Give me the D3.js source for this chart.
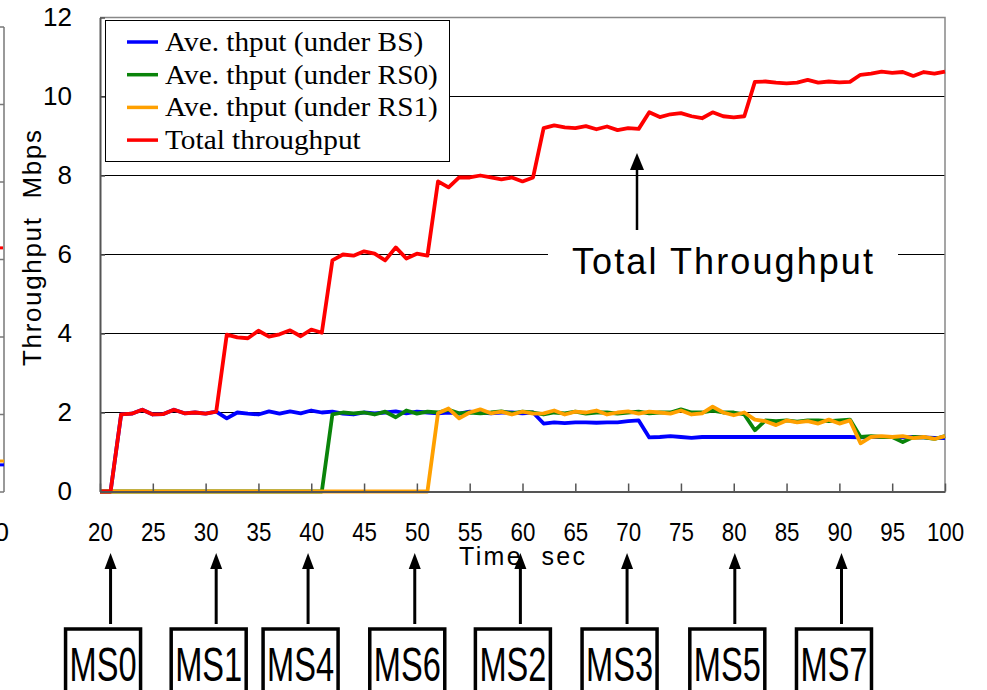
<!DOCTYPE html>
<html>
<head>
<meta charset="utf-8">
<script src="https://cdn.jsdelivr.net/npm/d3@7"></script>
<style>
  body { margin: 0; background: #fff; }
  svg { display: block; }
</style>
</head>
<body>
<svg id="chart" width="987" height="690"></svg>
<script>
// tiempo (s), una muestra por segundo
const tiempos = d3.range(20, 101);

const thputBS = [
  0, 0, 1.95, 1.97, 2.07, 1.95, 1.96, 2.07, 1.98, 2.0, 1.97,
  2.02, 1.85, 2.0, 1.97, 1.95, 2.03, 1.97, 2.03, 1.98, 2.05,
  2.0, 2.02, 1.97, 1.95, 2.0, 1.98, 2.0, 2.03, 1.98, 2.02,
  2.0, 1.98, 2.0, 1.97, 2.02, 2.0, 1.98, 2.0, 2.0, 1.98,
  2.0, 1.72, 1.75, 1.73, 1.75, 1.75, 1.74, 1.75, 1.75, 1.78,
  1.8, 1.37, 1.38, 1.4, 1.38, 1.36, 1.38, 1.38, 1.38, 1.38,
  1.38, 1.38, 1.38, 1.38, 1.38, 1.38, 1.38, 1.38, 1.38, 1.38,
  1.38, 1.37, 1.38, 1.38, 1.38, 1.37, 1.38, 1.37, 1.36, 1.35
];

const thputRS0 = [
  0, 0, 0, 0, 0, 0, 0, 0, 0, 0, 0,
  0, 0, 0, 0, 0, 0, 0, 0, 0, 0,
  0, 1.95, 2.0, 1.98, 2.0, 1.95, 2.02, 1.88, 2.05, 1.97,
  2.02, 2.0, 2.07, 1.98, 2.0, 1.98, 2.0, 2.03, 1.98, 2.02,
  2.0, 1.95, 2.0, 1.98, 2.02, 1.97, 2.0, 2.0, 1.97, 2.0,
  2.02, 1.98, 2.0, 2.0, 2.08, 2.0, 2.0, 2.05, 2.0, 2.0,
  1.95, 1.55, 1.8, 1.78, 1.8, 1.77, 1.8, 1.8, 1.78, 1.8,
  1.82, 1.38, 1.4, 1.38, 1.38, 1.25, 1.38, 1.37, 1.33, 1.4
];

const thputRS1 = [
  0, 0, 0, 0, 0, 0, 0, 0, 0, 0, 0,
  0, 0, 0, 0, 0, 0, 0, 0, 0, 0,
  0, 0, 0, 0, 0, 0, 0, 0, 0, 0,
  0, 1.98, 2.1, 1.85, 2.0, 2.08, 1.98, 2.02, 1.95, 2.02,
  1.97, 1.98, 2.05, 1.95, 2.02, 2.0, 2.05, 1.95, 2.0, 2.03,
  1.97, 2.02, 2.0, 1.97, 2.05, 1.95, 1.98, 2.15, 2.0, 1.93,
  2.0, 1.82, 1.78, 1.68, 1.8, 1.75, 1.78, 1.72, 1.82, 1.72,
  1.8, 1.22, 1.38, 1.4, 1.38, 1.4, 1.35, 1.38, 1.33, 1.4
];

const thputTotal = [
  0, 0, 1.95, 1.97, 2.07, 1.95, 1.96, 2.07, 1.98, 2.0, 1.97,
  2.02, 3.97, 3.9, 3.88, 4.07, 3.92, 3.98, 4.08, 3.93, 4.1,
  4.02, 5.85, 6.0, 5.97, 6.08, 6.02, 5.85, 6.18, 5.9, 6.02,
  5.97, 7.85, 7.7, 7.95, 7.95, 8.0, 7.95, 7.9, 7.95, 7.85,
  7.95, 9.2, 9.27, 9.22, 9.2, 9.25, 9.17, 9.24, 9.15, 9.2,
  9.18, 9.6, 9.48, 9.55, 9.58, 9.5, 9.45, 9.6, 9.5, 9.47,
  9.5, 10.37, 10.38, 10.35, 10.33, 10.35, 10.42, 10.35, 10.38, 10.36,
  10.37, 10.55, 10.58, 10.63, 10.6, 10.62, 10.52, 10.62, 10.58, 10.63
];

const series = [
  { nombre: "Ave. thput (under BS)", valores: thputBS, color: "#0000ff" },
  { nombre: "Ave. thput (under RS0)", valores: thputRS0, color: "#0a840a" },
  { nombre: "Ave. thput (under RS1)", valores: thputRS1, color: "#ffa000" },
  { nombre: "Total throughput", valores: thputTotal, color: "#ff0000" }
];

const xTicks = d3.range(20, 101, 5);
const yTicks = [0, 2, 4, 6, 8, 10, 12];

// llegada de cada estacion movil (flechas bajo el eje)
const estaciones = ["MS0", "MS1", "MS4", "MS6", "MS2", "MS3", "MS5", "MS7"];
const tiemposLlegada = [21, 31, 39.7, 49.8, 59.8, 69.9, 80.1, 90.2];

// trozo recortado del grafico vecino (izquierda)
const vecinoTicks = [0, 2, 4, 6, 8, 10, 12];
const vecinoTotal = 6.3, vecinoRS = 0.8, vecinoBS = 0.7;

const svg = d3.select("#chart");
const x = d3.scaleLinear().domain([20, 100]).range([100, 945]);
const y = d3.scaleLinear().domain([0, 12]).range([491.5, 17.5]);
const yVecino = d3.scaleLinear().domain([0, 12]).range([492, 27]);

svg.append("rect").attr("width", 987).attr("height", 690).attr("fill", "#fff");

// ---- grafico vecino recortado
svg.append("line")
    .attr("x1", 4).attr("x2", 4)
    .attr("y1", yVecino(12)).attr("y2", yVecino(0))
    .attr("stroke", "#777").attr("stroke-width", 1.5);
svg.selectAll(".tickVecino").data(vecinoTicks).enter().append("line")
    .attr("class", "tickVecino")
    .attr("x1", 0).attr("x2", 4)
    .attr("y1", d => yVecino(d)).attr("y2", d => yVecino(d))
    .attr("stroke", "#777").attr("stroke-width", 1.5);
svg.append("line").attr("x1", 0).attr("x2", 3)
    .attr("y1", yVecino(vecinoTotal)).attr("y2", yVecino(vecinoTotal))
    .attr("stroke", "#ff0000").attr("stroke-width", 3);
svg.append("line").attr("x1", 0).attr("x2", 4)
    .attr("y1", yVecino(vecinoRS)).attr("y2", yVecino(vecinoRS))
    .attr("stroke", "#ffa000").attr("stroke-width", 3);
svg.append("line").attr("x1", 0).attr("x2", 4)
    .attr("y1", yVecino(vecinoBS)).attr("y2", yVecino(vecinoBS))
    .attr("stroke", "#0000ff").attr("stroke-width", 3);
svg.append("text").attr("x", 9).attr("y", 541)
    .attr("text-anchor", "end")
    .attr("font-family", "Liberation Sans, Arial, sans-serif")
    .attr("font-size", 26).text("0");

// ---- rejilla
svg.selectAll(".grid").data(yTicks.filter(d => d > 0 && d < 12)).enter().append("line")
    .attr("class", "grid")
    .attr("x1", x(20)).attr("x2", x(100))
    .attr("y1", d => y(d)).attr("y2", d => y(d))
    .attr("stroke", "#000").attr("stroke-width", 1)
    .attr("shape-rendering", "crispEdges");

// borde superior y derecho
svg.append("path")
    .attr("d", `M${x(20)},${y(12)}H${x(100)}V${y(0)}`)
    .attr("fill", "none").attr("stroke", "#888").attr("stroke-width", 1.5);

// ---- anotacion "Total Throughput"
svg.append("rect")
    .attr("x", 548).attr("y", 238).attr("width", 350).attr("height", 48)
    .attr("fill", "#fff");
svg.append("text")
    .attr("x", 572).attr("y", 274)
    .attr("font-family", "Liberation Sans, Arial, sans-serif")
    .attr("font-size", 36)
    .attr("textLength", 301).attr("lengthAdjust", "spacing")
    .text("Total Throughput");
svg.append("line")
    .attr("x1", 637).attr("x2", 637).attr("y1", 230).attr("y2", 168)
    .attr("stroke", "#000").attr("stroke-width", 2.5);
svg.append("path")
    .attr("d", "M637,153L630,170L644,170Z").attr("fill", "#000");

// ---- lineas de datos
const linea = d3.line()
    .x((d, i) => x(tiempos[i]))
    .y(d => y(d));

series.forEach(s => {
    svg.append("path")
        .datum(s.valores)
        .attr("d", linea)
        .attr("fill", "none")
        .attr("stroke", s.color)
        .attr("stroke-width", 3.8)
        .attr("stroke-linejoin", "round");
});

// ---- ejes
const ejeX = svg.append("g")
    .attr("transform", `translate(0,${y(0)})`)
    .call(d3.axisBottom(x).tickValues(xTicks).tickSizeInner(-8).tickSizeOuter(0).tickPadding(31));
ejeX.select(".domain").attr("stroke", "#555").attr("stroke-width", 2);
ejeX.selectAll(".tick line").attr("stroke", "#555").attr("stroke-width", 1.5);
ejeX.selectAll(".tick text")
    .attr("font-family", "Liberation Sans, Arial, sans-serif")
    .attr("font-size", 26)
    .attr("fill", "#000")
    .attr("textLength", d => String(d).length * 12.4)
    .attr("lengthAdjust", "spacingAndGlyphs");

const ejeY = svg.append("g")
    .attr("transform", `translate(${x(20)},0)`)
    .call(d3.axisLeft(y).tickValues(yTicks).tickSizeInner(-5).tickSizeOuter(0).tickPadding(28));
ejeY.select(".domain").attr("stroke", "#555").attr("stroke-width", 2);
ejeY.selectAll(".tick line").attr("stroke", "#555").attr("stroke-width", 1.5);
ejeY.selectAll(".tick text")
    .attr("font-family", "Liberation Sans, Arial, sans-serif")
    .attr("font-size", 26)
    .attr("fill", "#000");

// titulos de ejes
svg.append("text")
    .attr("transform", "translate(41,366) rotate(-90)")
    .attr("font-family", "Liberation Sans, Arial, sans-serif")
    .attr("font-size", 26)
    .attr("textLength", 236).attr("lengthAdjust", "spacing")
    .text("Throughput\u00a0\u00a0Mbps");

svg.append("text")
    .attr("x", 459).attr("y", 565)
    .attr("font-family", "Liberation Sans, Arial, sans-serif")
    .attr("font-size", 25)
    .attr("textLength", 126).attr("lengthAdjust", "spacing")
    .text("Time\u00a0\u00a0sec");

// ---- leyenda
const leyenda = svg.append("g");
leyenda.append("rect")
    .attr("x", 105.5).attr("y", 20.5).attr("width", 344).attr("height", 141)
    .attr("fill", "#fff").attr("stroke", "#000").attr("stroke-width", 1);
series.forEach((s, i) => {
    const yy = 42 + i * 32.7;
    leyenda.append("line")
        .attr("x1", 127).attr("x2", 158).attr("y1", yy).attr("y2", yy)
        .attr("stroke", s.color).attr("stroke-width", 3.5);
    const t = leyenda.append("text")
        .attr("x", 165).attr("y", yy + 9)
        .attr("font-family", "Liberation Serif, Times New Roman, serif")
        .attr("font-size", 27)
        .text(s.nombre);
    // el original usa una fuente serif algo mas ancha
    const ancho = t.node().getComputedTextLength();
    t.attr("textLength", ancho * 1.085).attr("lengthAdjust", "spacingAndGlyphs");
});

// ---- flechas y cajas de estaciones moviles
estaciones.forEach((ms, i) => {
    const ax = x(tiemposLlegada[i]);
    const cx = ax - 8;
    svg.append("line")
        .attr("x1", ax).attr("x2", ax).attr("y1", 566).attr("y2", 624)
        .attr("stroke", "#000").attr("stroke-width", 3);
    svg.append("path")
        .attr("d", `M${ax},553L${ax - 6},569L${ax + 6},569Z`)
        .attr("fill", "#000");
    svg.append("rect")
        .attr("x", cx - 37).attr("y", 629).attr("width", 75).attr("height", 70)
        .attr("fill", "#fff").attr("stroke", "#000").attr("stroke-width", 3.5);
    svg.append("text")
        .attr("x", cx - 33).attr("y", 681)
        .attr("font-family", "Liberation Sans Narrow, Liberation Sans, Arial, sans-serif")
        .attr("font-size", 48)
        .attr("textLength", 67).attr("lengthAdjust", "spacingAndGlyphs")
        .text(ms);
});
</script>
</body>
</html>
